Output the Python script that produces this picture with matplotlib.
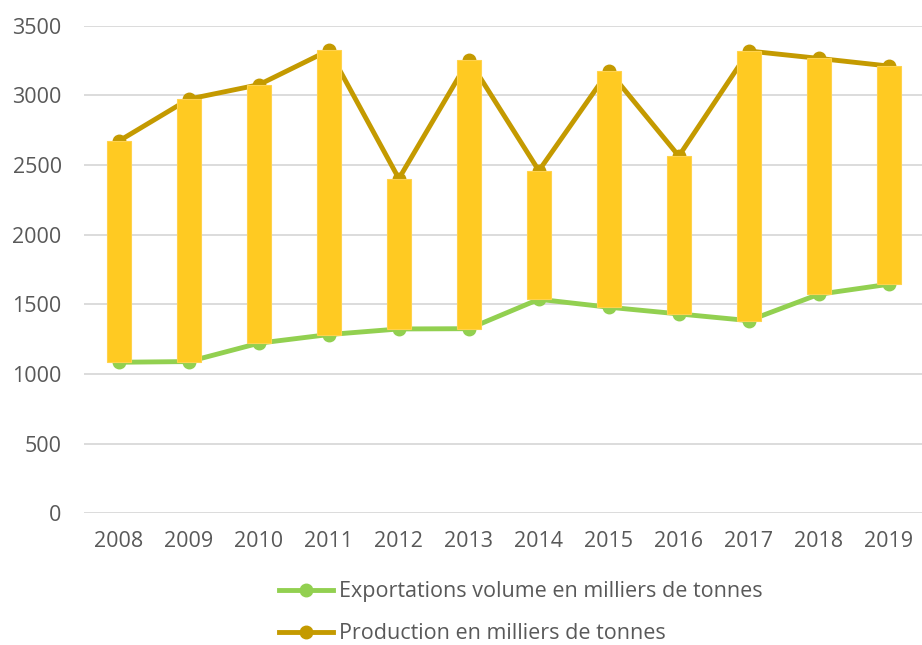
import matplotlib
matplotlib.use("Agg")
import matplotlib.pyplot as plt
from matplotlib.lines import Line2D
import numpy as np

years = ["2008", "2009", "2010", "2011", "2012", "2013",
         "2014", "2015", "2016", "2017", "2018", "2019"]
exportations = [1085, 1090, 1222, 1284, 1324, 1326, 1537, 1480, 1432, 1384, 1573, 1645]
production = [2673, 2974, 3077, 3324, 2403, 3256, 2460, 3177, 2565, 3319, 3266, 3211]

c_exp = "#92d050"
c_prod = "#c49a00"
c_bar = "#ffca22"
c_text = "#595959"

plt.rcParams["font.family"] = ["Open Sans", "DejaVu Sans"]

fig = plt.figure(figsize=(9.22, 6.45), dpi=100)
ax = fig.add_axes([0.091, 0.204, 0.911, 0.756])

x = np.arange(len(years))
exp = np.array(exportations)
prod = np.array(production)

ax.plot(x, exp, color=c_exp, lw=3.5, marker="o", ms=9, zorder=3)
ax.plot(x, prod, color=c_prod, lw=3.5, marker="o", ms=9, zorder=3)

# up-down bars between the two series
ax.bar(x, prod - exp, bottom=exp, width=0.345, color=c_bar,
       edgecolor="#ffd24d", linewidth=0.8, zorder=4)

ax.set_xlim(-0.5, len(years) - 0.5)
ax.set_ylim(0, 3500)
ax.set_yticks(range(0, 3501, 500))
ax.set_xticks(x)
ax.set_xticklabels(years)
ax.yaxis.grid(True, color="#d9d9d9", lw=1.3)
ax.set_axisbelow(True)
for s in ax.spines.values():
    s.set_visible(False)
ax.tick_params(length=0, labelsize=15.5, colors=c_text)
ax.tick_params(axis="x", pad=13)
ax.tick_params(axis="y", pad=16)

handles = [
    Line2D([], [], color=c_exp, lw=3.5, marker="o", ms=9),
    Line2D([], [], color=c_prod, lw=3.5, marker="o", ms=9),
]
labels = ["Exportations volume en milliers de tonnes",
          "Production en milliers de tonnes"]
leg = fig.legend(handles, labels, loc="upper left", bbox_to_anchor=(0.303, 0.099),
                 frameon=False, fontsize=15.5, handlelength=2.5, handletextpad=0.25,
                 labelspacing=0.98, borderaxespad=0, borderpad=0)
for t in leg.get_texts():
    t.set_color(c_text)

fig.savefig("out.png", dpi=100)
